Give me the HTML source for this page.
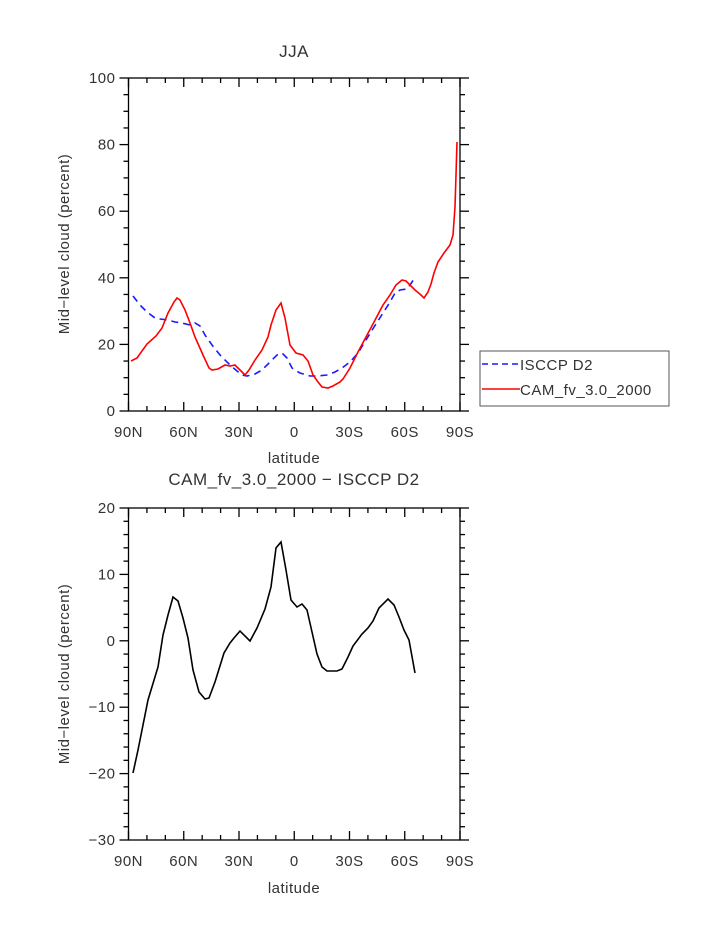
<!DOCTYPE html>
<html><head><style>body{margin:0;background:#fff}svg{display:block}text{font-family:"Liberation Sans",sans-serif;fill:#333;letter-spacing:0.5px}</style></head>
<body>
<svg id="s" width="723" height="935" viewBox="0 0 723 935">
<text x="294" y="57" font-size="17" text-anchor="middle">JJA</text>
<text x="294" y="485" font-size="17" text-anchor="middle">CAM_fv_3.0_2000 − ISCCP D2</text>
<text x="294" y="463" font-size="15" text-anchor="middle">latitude</text>
<text x="294" y="893" font-size="15" text-anchor="middle">latitude</text>
<text transform="translate(69,244) rotate(-90)" font-size="15" text-anchor="middle">Mid−level cloud (percent)</text>
<text transform="translate(69,674) rotate(-90)" font-size="15" text-anchor="middle">Mid−level cloud (percent)</text>
<g id="ax" stroke="#000" stroke-width="1.3" fill="none"></g>
<polyline fill="none" stroke="#1a1aff" stroke-width="1.6" stroke-dasharray="7,5" points="133,296 140,305 147,312 155,318 160,319 168,320 175,322 182,323 190,325 195,323 200,326 205,335 212,345 220,355 230,365 237,371 242,375 247,376 255,374 262,370 270,362 277,355 282,353 287,358 292,368 300,373 310,376 318,376 327,375 335,372 342,368 350,362 358,353 366,340 374,327 383,313 390,302 395,293 400,290 407,289 410,285 414,279"/>
<polyline fill="none" stroke="#f00" stroke-width="1.6" points="131,361 137,358 147,344 156,336 162,328 168,313 174,302 177,298 180,300 185,310 190,323 195,337 203,355 209,368 212,370 218,369 225,365 230,366 235,365 240,370 245,375 249,370 255,360 262,350 268,337 271,325 276,310 281,303 285,318 290,345 296,353 303,355 308,361 313,375 318,382 322,387 328,388 333,386 340,382 343,379 350,368 358,352 366,337 374,322 383,305 390,295 396,285 402,280 406,281 410,285 415,290 421,295 424,298 428,292 431,284 434,273 438,262 444,253 450,245 453,235 455,207 456,175 457,142"/>
<polyline fill="none" stroke="#000" stroke-width="1.6" points="133,773 138,750 143,725 148,700 158,667 163,635 168,615 173,597 178,601 183,618 188,638 193,670 199,692 205,699 209,698 215,682 224,653 230,643 234,638 240,631 250,641 257,628 265,609 271,587 276,548 281,542 286,570 291,600 297,607 302,604 307,610 312,632 317,654 322,667 327,671 337,671 342,669 348,657 353,646 362,634 368,628 373,621 379,608 388,599 394,605 399,617 404,630 409,640 415,673"/>
<rect x="480" y="351" width="189" height="55" fill="none" stroke="#555" stroke-width="1"/>
<line x1="482" y1="364" x2="520" y2="364" stroke="#1a1aff" stroke-width="1.6" stroke-dasharray="6,4"/>
<line x1="482" y1="389" x2="520" y2="389" stroke="#f00" stroke-width="1.6"/>
<text x="520" y="370" font-size="15">ISCCP D2</text>
<text x="520" y="395" font-size="15">CAM_fv_3.0_2000</text>
</svg>
<script>
var g=document.getElementById('ax'),s=document.getElementById('s'),NS='http://www.w3.org/2000/svg';
function L(a,b,c,d){var l=document.createElementNS(NS,'line');l.setAttribute('x1',a);l.setAttribute('y1',b);l.setAttribute('x2',c);l.setAttribute('y2',d);g.appendChild(l);}
function T(x,y,t,a){var e=document.createElementNS(NS,'text');e.setAttribute('x',x);e.setAttribute('y',y);e.setAttribute('font-size','15');e.setAttribute('text-anchor',a);e.textContent=t;s.appendChild(e);}
var X0=128.5,X1=460,xl=['90N','60N','30N','0','30S','60S','90S'];
function box(top,bot,vmax,vmin,major,minor){
 var r=document.createElementNS(NS,'rect');r.setAttribute('x',X0);r.setAttribute('y',top);r.setAttribute('width',X1-X0);r.setAttribute('height',bot-top);g.appendChild(r);
 for(var i=0;i<=18;i++){var x=X0+(X1-X0)*i/18,len=i%3==0?9:5;L(x,bot,x,bot-len);L(x,top,x,top+len);if(i%3==0)T(x,bot+26,xl[i/3],'middle');}
 for(var v=vmin;v<=vmax+1e-6;v+=minor){var y=bot-(v-vmin)/(vmax-vmin)*(bot-top),maj=Math.abs(v/major-Math.round(v/major))<1e-6,len=maj?9:5;
  L(X0,y,X0-len,y);L(X1,y,X1+len,y);if(maj)T(X0-13,y+5,(v<0?'−':'')+Math.abs(v),'end');}
}
box(78,411,100,0,20,5);
box(508,840,20,-30,10,2);
</script>
</body></html>
